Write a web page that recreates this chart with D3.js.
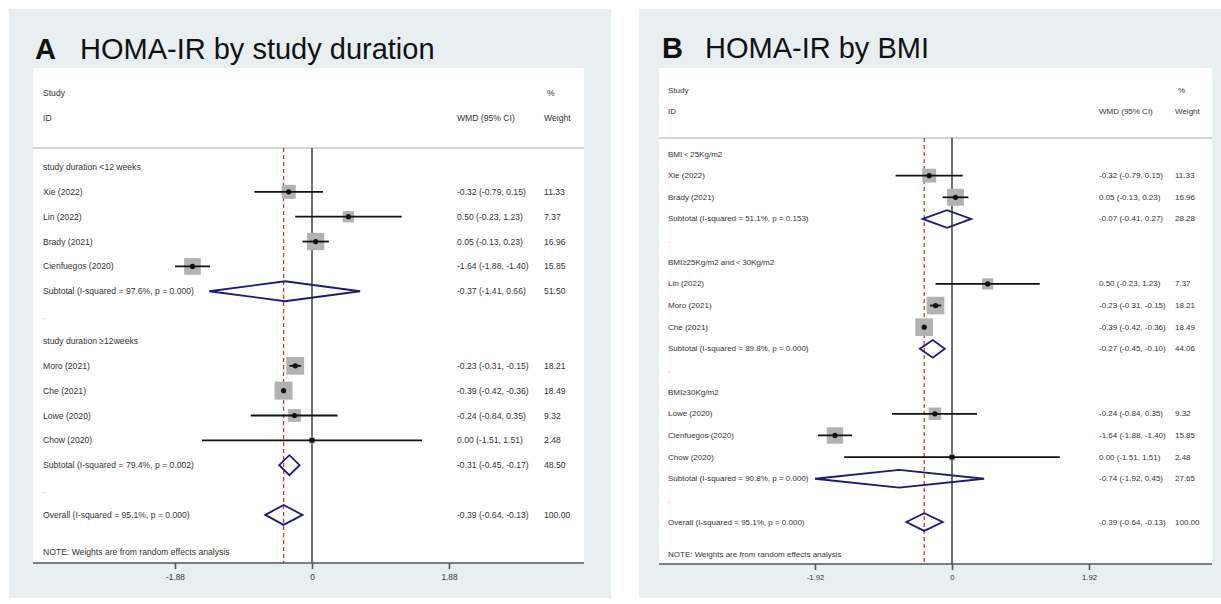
<!DOCTYPE html>
<html>
<head>
<meta charset="utf-8">
<script src="https://cdn.jsdelivr.net/npm/d3@7"></script>
<style>
  body { margin: 0; background: #fff; }
  svg { display: block; font-family: Arial, "Liberation Sans", sans-serif; }
</style>
</head>
<body>
<svg id="chart" width="1221" height="604"></svg>
<script>
// ---- panel A: HOMA-IR by study duration ----
const aTypes = ['group', 'study', 'study', 'study', 'study', 'sub', 'gap',
                'group', 'study', 'study', 'study', 'study', 'sub', 'gap', 'overall'];
const aLabels = ['study duration <12 weeks', 'Xie (2022)', 'Lin (2022)', 'Brady (2021)', 'Cienfuegos (2020)',
                 'Subtotal  (I-squared = 97.6%, p = 0.000)', '.',
                 'study duration \u226512weeks', 'Moro (2021)', 'Che (2021)', 'Lowe (2020)', 'Chow (2020)',
                 'Subtotal  (I-squared = 79.4%, p = 0.002)', '.',
                 'Overall  (I-squared = 95.1%, p = 0.000)'];
const aEst =    [null, -0.32, 0.50, 0.05, -1.64, -0.37, null, null, -0.23, -0.39, -0.24, 0.00, -0.31, null, -0.39];
const aLow =    [null, -0.79, -0.23, -0.13, -1.88, -1.41, null, null, -0.31, -0.42, -0.84, -1.51, -0.45, null, -0.64];
const aHigh =   [null, 0.15, 1.23, 0.23, -1.40, 0.66, null, null, -0.15, -0.36, 0.35, 1.51, -0.17, null, -0.13];
const aWeight = [null, 11.33, 7.37, 16.96, 15.85, 51.50, null, null, 18.21, 18.49, 9.32, 2.48, 48.50, null, 100.00];
const aTicks = [-1.88, 0, 1.88];

// ---- panel B: HOMA-IR by BMI ----
const bTypes = ['group', 'study', 'study', 'sub', 'gap',
                'group', 'study', 'study', 'study', 'sub', 'gap',
                'group', 'study', 'study', 'study', 'sub', 'gap', 'overall'];
const bLabels = ['BMI\uff1c25Kg/m2', 'Xie (2022)', 'Brady (2021)', 'Subtotal  (I-squared = 51.1%, p = 0.153)', '.',
                 'BMI\u226525Kg/m2 and\uff1c30Kg/m2', 'Lin (2022)', 'Moro (2021)', 'Che (2021)',
                 'Subtotal  (I-squared = 89.8%, p = 0.000)', '.',
                 'BMI\u226530Kg/m2', 'Lowe (2020)', 'Cienfuegos (2020)', 'Chow (2020)',
                 'Subtotal  (I-squared = 90.8%, p = 0.000)', '.',
                 'Overall  (I-squared = 95.1%, p = 0.000)'];
const bEst =    [null, -0.32, 0.05, -0.07, null, null, 0.50, -0.23, -0.39, -0.27, null, null, -0.24, -1.64, 0.00, -0.74, null, -0.39];
const bLow =    [null, -0.79, -0.13, -0.41, null, null, -0.23, -0.31, -0.42, -0.45, null, null, -0.84, -1.88, -1.51, -1.92, null, -0.64];
const bHigh =   [null, 0.15, 0.23, 0.27, null, null, 1.23, -0.15, -0.36, -0.10, null, null, 0.35, -1.40, 1.51, 0.45, null, -0.13];
const bWeight = [null, 11.33, 16.96, 28.28, null, null, 7.37, 18.21, 18.49, 44.06, null, null, 9.32, 15.85, 2.48, 27.65, null, 100.00];
const bTicks = [-1.92, 0, 1.92];

// plain hyphen for negatives, like the Stata output
const locale = d3.formatLocale({ decimal: '.', thousands: ',', grouping: [3], currency: ['', ''], minus: '-' });
const f2 = locale.format('.2f');
const svg = d3.select('#chart');

function drawPanel(p) {
    const g = svg.append('g');
    const rows = p.labels.map((label, i) => ({
        i, label, type: p.types[i], est: p.est[i], lo: p.low[i], hi: p.high[i], w: p.weight[i]
    }));

    // background + white plot box
    g.append('rect').attr('x', p.bg[0]).attr('y', p.bg[1]).attr('width', p.bg[2]).attr('height', p.bg[3])
        .attr('fill', '#e8eff1');
    g.append('rect').attr('x', p.boxLeft).attr('y', p.boxTop)
        .attr('width', p.boxRight - p.boxLeft).attr('height', p.axisY - p.boxTop)
        .attr('fill', '#fff');

    // title
    g.append('text').attr('x', p.letterX).attr('y', p.titleY)
        .attr('font-size', 29).attr('font-weight', 'bold').attr('fill', '#111').text(p.letter);
    g.append('text').attr('x', p.titleX).attr('y', p.titleY)
        .attr('font-size', 29).attr('fill', '#111').text(p.title);

    const x = d3.scaleLinear().domain([p.ticks[0], p.ticks[2]]).range(p.tickRange);
    const y = d3.scaleLinear().domain([0, 1]).range([p.row0, p.row0 + p.step]);
    const side = d3.scaleSqrt().domain([0, 18.49]).range([0, p.boxMax]);

    const txt = (sel) => sel.attr('font-size', p.font).attr('fill', '#333').attr('dominant-baseline', 'central');

    // header
    g.append('text').call(txt).attr('x', p.labelX).attr('y', p.studyY).text('Study');
    g.append('text').call(txt).attr('x', p.labelX).attr('y', p.idY).text('ID');
    g.append('text').call(txt).attr('x', p.wmdX).attr('y', p.idY).text('WMD (95% CI)');
    g.append('text').call(txt).attr('x', p.wX + 3).attr('y', p.studyY).text('%');
    g.append('text').call(txt).attr('x', p.wX).attr('y', p.idY).text('Weight');
    g.append('line').attr('x1', p.boxLeft).attr('x2', p.boxRight).attr('y1', p.sepY).attr('y2', p.sepY)
        .attr('stroke', '#c4c4c4').attr('stroke-width', 1.5);

    // reference lines
    g.append('line').attr('x1', x(0)).attr('x2', x(0)).attr('y1', p.sepY).attr('y2', p.axisY)
        .attr('stroke', '#333').attr('stroke-width', 1.4);
    const overall = rows.find(d => d.type === 'overall');
    g.append('line').attr('x1', x(overall.est)).attr('x2', x(overall.est)).attr('y1', p.sepY).attr('y2', p.axisY)
        .attr('stroke', '#b03a2e').attr('stroke-width', 1.2).attr('stroke-dasharray', '4,3');

    // labels
    g.selectAll('.lab').data(rows).join('text').attr('class', 'lab').call(txt)
        .attr('x', p.labelX).attr('y', d => y(d.i))
        .attr('fill', d => d.type === 'gap' ? '#aaa' : '#333')
        .text(d => d.label);

    const vals = rows.filter(d => d.est !== null);
    g.selectAll('.wmd').data(vals).join('text').attr('class', 'wmd').call(txt)
        .attr('x', p.wmdX).attr('y', d => y(d.i))
        .text(d => `${f2(d.est)} (${f2(d.lo)}, ${f2(d.hi)})`);
    g.selectAll('.wt').data(vals).join('text').attr('class', 'wt').call(txt)
        .attr('x', p.wX).attr('y', d => y(d.i))
        .text(d => f2(d.w));

    // studies: box, CI line, point
    const studies = rows.filter(d => d.type === 'study');
    g.selectAll('.box').data(studies).join('rect').attr('class', 'box')
        .attr('x', d => x(d.est) - side(d.w) / 2).attr('y', d => y(d.i) - side(d.w) / 2)
        .attr('width', d => side(d.w)).attr('height', d => side(d.w))
        .attr('fill', '#b2b2b2');
    g.selectAll('.ci').data(studies).join('line').attr('class', 'ci')
        .attr('x1', d => x(d.lo)).attr('x2', d => x(d.hi))
        .attr('y1', d => y(d.i)).attr('y2', d => y(d.i))
        .attr('stroke', '#111').attr('stroke-width', 1.8);
    g.selectAll('.pt').data(studies).join('circle').attr('class', 'pt')
        .attr('cx', d => x(d.est)).attr('cy', d => y(d.i)).attr('r', 2.6).attr('fill', '#111');

    // pooled diamonds
    const pooled = rows.filter(d => d.type === 'sub' || d.type === 'overall');
    const h = p.diamondH / 2;
    g.selectAll('.dia').data(pooled).join('path').attr('class', 'dia')
        .attr('d', d => {
            const cy = y(d.i);
            return `M${x(d.lo)},${cy}L${x(d.est)},${cy - h}L${x(d.hi)},${cy}L${x(d.est)},${cy + h}Z`;
        })
        .attr('fill', 'none').attr('stroke', '#1c1c78').attr('stroke-width', 1.8);

    // note
    g.append('text').call(txt).attr('x', p.labelX).attr('y', y(rows.length + 0.5))
        .text('NOTE: Weights are from random effects analysis');

    // axis
    g.append('line').attr('x1', p.boxLeft).attr('x2', p.boxRight).attr('y1', p.axisY).attr('y2', p.axisY)
        .attr('stroke', '#555').attr('stroke-width', 1.5);
    const axis = g.append('g').attr('transform', `translate(0,${p.axisY})`)
        .call(d3.axisBottom(x).tickValues(p.ticks).tickSize(6).tickPadding(5)
            .tickFormat(d => d === 0 ? '0' : f2(d)));
    axis.select('.domain').remove();
    axis.selectAll('line').attr('stroke', '#555').attr('stroke-width', 1.6);
    axis.selectAll('text').attr('font-size', p.font - 0.3).attr('fill', '#333')
        .attr('font-family', 'Arial, "Liberation Sans", sans-serif');
}

drawPanel({
    types: aTypes, labels: aLabels, est: aEst, low: aLow, high: aHigh, weight: aWeight, ticks: aTicks,
    bg: [9, 9, 602, 589], boxLeft: 33, boxRight: 584, boxTop: 68, axisY: 563,
    letter: 'A', letterX: 35, title: 'HOMA-IR by study duration', titleX: 80, titleY: 59,
    studyY: 93, idY: 118, sepY: 148, row0: 167, step: 24.85,
    labelX: 43, wmdX: 457, wX: 544, tickRange: [175, 449],
    boxMax: 18, diamondH: 20, font: 8.6
});

drawPanel({
    types: bTypes, labels: bLabels, est: bEst, low: bLow, high: bHigh, weight: bWeight, ticks: bTicks,
    bg: [639, 9, 582, 589], boxLeft: 659, boxRight: 1212, boxTop: 68, axisY: 564,
    letter: 'B', letterX: 662, title: 'HOMA-IR by BMI', titleX: 705, titleY: 58,
    studyY: 90, idY: 111, sepY: 138, row0: 154, step: 21.65,
    labelX: 668, wmdX: 1099, wX: 1175, tickRange: [815, 1089],
    boxMax: 17.7, diamondH: 17.7, font: 8
});
</script>
</body>
</html>
